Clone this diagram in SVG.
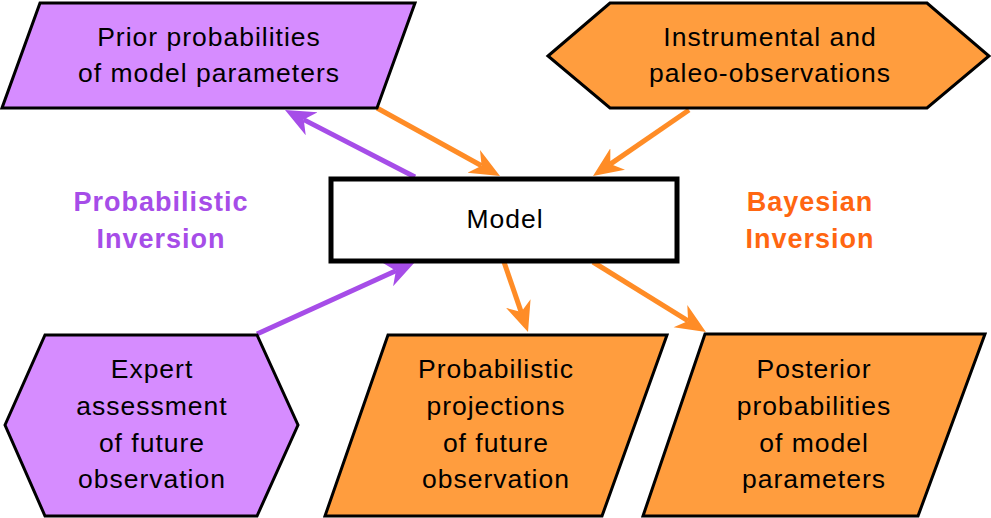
<svg xmlns="http://www.w3.org/2000/svg" width="991" height="518" viewBox="0 0 991 518">
<style>
.purple{fill:#d68cff;stroke:#000;stroke-width:3;stroke-linejoin:miter}
.orange{fill:#ff9d3e;stroke:#000;stroke-width:3;stroke-linejoin:miter}
.t{font-family:"Liberation Sans",Arial,sans-serif;font-size:26.5px;letter-spacing:1px;fill:#000;text-anchor:middle}
.lp{font-family:"Liberation Sans",Arial,sans-serif;font-size:27px;font-weight:bold;letter-spacing:1px;fill:#a64de8;text-anchor:middle}
.lo{font-family:"Liberation Sans",Arial,sans-serif;font-size:27px;font-weight:bold;letter-spacing:1px;fill:#ff6611;text-anchor:middle}
.cp{stroke:#a64de8;stroke-width:5;fill:none;marker-end:url(#ap)}
.co{stroke:#ff8c26;stroke-width:5;fill:none;marker-end:url(#ao)}
</style>
<defs>
<marker id="ap" markerUnits="userSpaceOnUse" markerWidth="32" markerHeight="28" refX="9" refY="13" orient="auto" viewBox="0 0 32 28">
<path d="M0,0 L30,13 L0,26 L9,13 Z" fill="#a64de8"/>
</marker>
<marker id="ao" markerUnits="userSpaceOnUse" markerWidth="32" markerHeight="28" refX="9" refY="13" orient="auto" viewBox="0 0 32 28">
<path d="M0,0 L30,13 L0,26 L9,13 Z" fill="#ff8c26"/>
</marker>
</defs>
<rect width="991" height="518" fill="#fff"/>
<g id="connectors">
<line class="cp" x1="415" y1="177" x2="303.7" y2="119.6"/>
<line class="co" x1="377" y1="108" x2="481.6" y2="165.8"/>
<line class="co" x1="689" y1="110" x2="610.3" y2="164.1"/>
<line class="cp" x1="257" y1="334" x2="395.9" y2="270.7"/>
<line class="co" x1="504" y1="262" x2="521.2" y2="312.1"/>
<line class="co" x1="593" y1="262" x2="688.1" y2="320.9"/>
</g>
<g id="prior">
<polygon class="purple" points="40,3 415,3 377,108 2,108"/>
<text class="t" x="209" y="46">Prior probabilities</text>
<text class="t" x="209" y="82">of model parameters</text>
</g>
<g id="instrumental">
<polygon class="orange" points="548,56 610,3 927,3 989,56 927,108 610,108"/>
<text class="t" x="770" y="46">Instrumental and</text>
<text class="t" x="770" y="82">paleo-observations</text>
</g>
<g id="model">
<rect x="331" y="179" width="346" height="82" fill="#fff" stroke="#000" stroke-width="5"/>
<text class="t" x="505" y="228">Model</text>
</g>
<g id="label-probabilistic">
<text class="lp" x="161" y="211">Probabilistic</text>
<text class="lp" x="161" y="248">Inversion</text>
</g>
<g id="label-bayesian">
<text class="lo" x="810" y="211">Bayesian</text>
<text class="lo" x="810" y="248">Inversion</text>
</g>
<g id="expert">
<polygon class="purple" points="5,425 45,335 257,335 298,425 257,516 45,516"/>
<text class="t" x="152" y="378">Expert</text>
<text class="t" x="152" y="415">assessment</text>
<text class="t" x="152" y="452">of future</text>
<text class="t" x="152" y="488">observation</text>
</g>
<g id="projections">
<polygon class="orange" points="388,335 667,335 602,516 325,516"/>
<text class="t" x="496" y="378">Probabilistic</text>
<text class="t" x="496" y="415">projections</text>
<text class="t" x="496" y="452">of future</text>
<text class="t" x="496" y="488">observation</text>
</g>
<g id="posterior">
<polygon class="orange" points="705,334 985,334 918,516 643,516"/>
<text class="t" x="814" y="378">Posterior</text>
<text class="t" x="814" y="415">probabilities</text>
<text class="t" x="814" y="452">of model</text>
<text class="t" x="814" y="488">parameters</text>
</g>
</svg>
